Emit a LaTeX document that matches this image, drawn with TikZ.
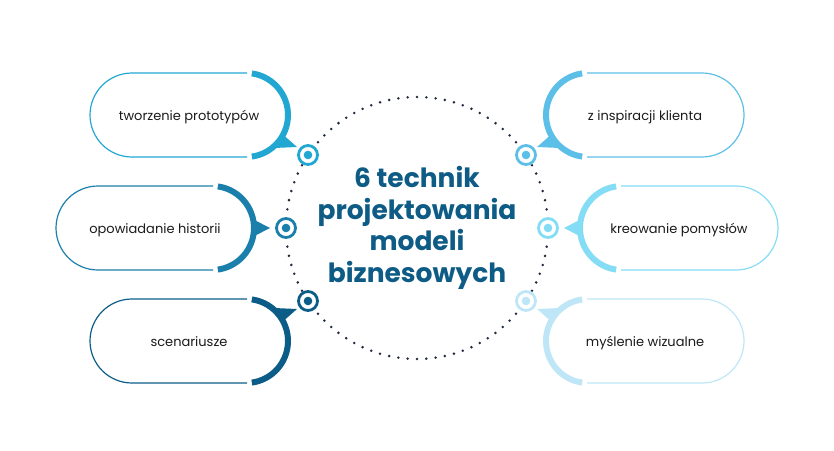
\documentclass[tikz,border=0pt]{standalone}
\usepackage{fontspec}
\setmainfont{Poppins}
\usetikzlibrary{calc}

\definecolor{skyA}{HTML}{22A7D2}
\definecolor{skyB}{HTML}{1A80AB}
\definecolor{skyC}{HTML}{0B5D87}
\definecolor{skyD}{HTML}{5CBFE8}
\definecolor{skyE}{HTML}{84DCF5}
\definecolor{skyF}{HTML}{BFE6F7}
\definecolor{headline}{HTML}{0E5C85}
\definecolor{ink}{HTML}{1A1A1A}
\definecolor{navy}{HTML}{1F2A3C}

\begin{document}
\begin{tikzpicture}[x=1pt,y=-1pt,
  rim/.style={line width=1.2pt},
  rimthick/.style={line width=6pt},
  bubbletext/.style={anchor=base,text=ink,font=\fontsize{13}{15}\selectfont},
  marker/.style={circle,draw=#1,fill=white,line width=2.8pt,minimum size=19pt,inner sep=0pt,
    path picture={\fill[#1] (path picture bounding box.center) circle[radius=4.3pt];}},
  dots/.style={draw=navy,line width=2.8pt,line cap=round,dash pattern=on 0pt off 9.354pt}]

  \useasboundingbox (0,0) rectangle (834,450);

  % Hub

  \coordinate (hub) at (417,228);
  \draw[dots] (hub) circle[radius=131pt];
  \node[align=center,text=headline,font=\fontsize{26.5}{31.7}\selectfont\bfseries] (title) at (hub)
    {6 technik\\projektowania\\modeli\\biznesowych};

  % Bubbles, left

  \coordinate (tl) at (246,115);
  \coordinate (ml) at (212,228);
  \coordinate (bl) at (246,341);

  \draw[rim,skyA] (247,73) -- (132,73) arc[start angle=90,end angle=270,radius=42pt] -- (247,157);
  \draw[rimthick,skyA] (tl) ++(82:42pt) arc[start angle=82,end angle=-82,radius=42pt];
  \fill[skyA] ($(tl)+(-28:42pt)$) -- ($(tl)+(51,32)$) -- ($(tl)+(-52:42pt)$) -- cycle;

  \draw[rim,skyB] (213,186) -- (98,186) arc[start angle=90,end angle=270,radius=42pt] -- (213,270);
  \draw[rimthick,skyB] (ml) ++(82:42pt) arc[start angle=82,end angle=-82,radius=42pt];
  \fill[skyB] ($(ml)+(12:42pt)$) -- ($(ml)+(58,0)$) -- ($(ml)+(-12:42pt)$) -- cycle;

  \draw[rim,skyC] (247,299) -- (132,299) arc[start angle=90,end angle=270,radius=42pt] -- (247,383);
  \draw[rimthick,skyC] (bl) ++(82:42pt) arc[start angle=82,end angle=-82,radius=42pt];
  \fill[skyC] ($(bl)+(28:42pt)$) -- ($(bl)+(51,-32)$) -- ($(bl)+(52:42pt)$) -- cycle;

  % Bubbles, right

  \coordinate (tr) at (588,115);
  \coordinate (mr) at (622,228);
  \coordinate (br) at (588,341);

  \draw[rim,skyD] (587,73) -- (702,73) arc[start angle=90,end angle=-90,radius=42pt] -- (587,157);
  \draw[rimthick,skyD] (tr) ++(98:42pt) arc[start angle=98,end angle=262,radius=42pt];
  \fill[skyD] ($(tr)+(208:42pt)$) -- ($(tr)+(-51,32)$) -- ($(tr)+(232:42pt)$) -- cycle;

  \draw[rim,skyE] (621,186) -- (736,186) arc[start angle=90,end angle=-90,radius=42pt] -- (621,270);
  \draw[rimthick,skyE] (mr) ++(98:42pt) arc[start angle=98,end angle=262,radius=42pt];
  \fill[skyE] ($(mr)+(168:42pt)$) -- ($(mr)+(-58,0)$) -- ($(mr)+(192:42pt)$) -- cycle;

  \draw[rim,skyF] (587,299) -- (702,299) arc[start angle=90,end angle=-90,radius=42pt] -- (587,383);
  \draw[rimthick,skyF] (br) ++(98:42pt) arc[start angle=98,end angle=262,radius=42pt];
  \fill[skyF] ($(br)+(152:42pt)$) -- ($(br)+(-51,-32)$) -- ($(br)+(128:42pt)$) -- cycle;

  % Texts

  \node[bubbletext] (proto) at (189,120) {tworzenie prototypów};
  \node[bubbletext] (story) at (155,233) {opowiadanie historii};
  \node[bubbletext] (scen)  at (189,346) {scenariusze};
  \node[bubbletext] (client) at (645,120) {z inspiracji klienta};
  \node[bubbletext] (ideas) at (679,233) {kreowanie pomysłów};
  \node[bubbletext] (visual) at (645,346) {myślenie wizualne};

  % Markers

  \node[marker=skyA] (m_tl) at (308,155) {};
  \node[marker=skyB] (m_ml) at (286,228) {};
  \node[marker=skyC] (m_bl) at (308,301) {};
  \node[marker=skyD] (m_tr) at (526,155) {};
  \node[marker=skyE] (m_mr) at (548,228) {};
  \node[marker=skyF] (m_br) at (526,301) {};

\end{tikzpicture}
\end{document}
